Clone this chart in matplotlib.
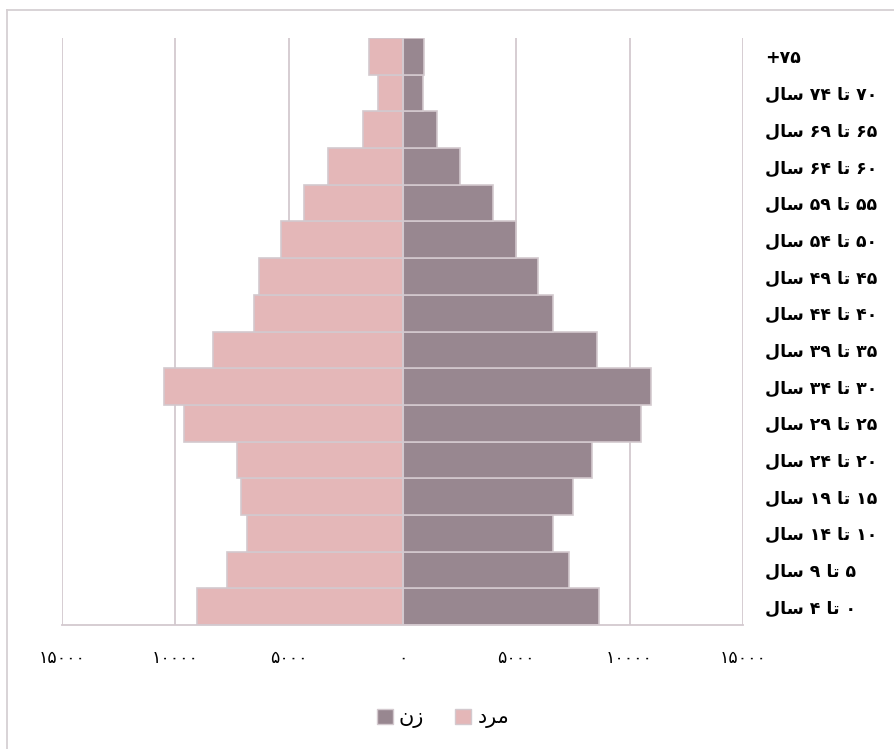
import matplotlib
matplotlib.use("Agg")
import matplotlib.pyplot as plt
from matplotlib.patches import Patch
from matplotlib.lines import Line2D

# ---------------- data ----------------
age_groups = ["۰ تا ۴ سال", "۵ تا ۹ سال", "۱۰ تا ۱۴ سال", "۱۵ تا ۱۹ سال",
              "۲۰ تا ۲۴ سال", "۲۵ تا ۲۹ سال", "۳۰ تا ۳۴ سال", "۳۵ تا ۳۹ سال",
              "۴۰ تا ۴۴ سال", "۴۵ تا ۴۹ سال", "۵۰ تا ۵۴ سال", "۵۵ تا ۵۹ سال",
              "۶۰ تا ۶۴ سال", "۶۵ تا ۶۹ سال", "۷۰ تا ۷۴ سال", "+۷۵"]
men = [9070, 7730, 6840, 7100, 7310, 9620, 10520, 8330,
       6520, 6310, 5360, 4360, 3290, 1720, 1090, 1470]
women = [8640, 7320, 6620, 7500, 8330, 10490, 10930, 8550,
         6620, 5960, 4990, 3970, 2540, 1500, 890, 950]
men_label = "مرد"
women_label = "زن"
x_ticks = [-15000, -10000, -5000, 0, 5000, 10000, 15000]

# --------- minimal Persian shaping (visual order, presentation forms) ---------
FORMS = {  # isolated, final, initial, medial
    "ا": ("\uFE8D", "\uFE8E", None, None),
    "ت": ("\uFE95", "\uFE96", "\uFE97", "\uFE98"),
    "د": ("\uFEA9", "\uFEAA", None, None),
    "ر": ("\uFEAD", "\uFEAE", None, None),
    "ز": ("\uFEAF", "\uFEB0", None, None),
    "س": ("\uFEB1", "\uFEB2", "\uFEB3", "\uFEB4"),
    "ل": ("\uFEDD", "\uFEDE", "\uFEDF", "\uFEE0"),
    "م": ("\uFEE1", "\uFEE2", "\uFEE3", "\uFEE4"),
    "ن": ("\uFEE5", "\uFEE6", "\uFEE7", "\uFEE8"),
}

def dual(c):
    return c in FORMS and FORMS[c][2] is not None

def shape_word(w):
    if not any(c in FORMS for c in w):
        return w
    out = []
    for i, c in enumerate(w):
        if c not in FORMS:
            out.append(c)
            continue
        jp = i > 0 and dual(w[i - 1])
        jn = i < len(w) - 1 and dual(c) and w[i + 1] in FORMS
        iso, fin, ini, med = FORMS[c]
        if jp and jn:
            out.append(med)
        elif jp:
            out.append(fin)
        elif jn:
            out.append(ini)
        else:
            out.append(iso)
    return "".join(reversed(out))

def fa(s):
    return " ".join(shape_word(w) for w in reversed(s.split(" ")))

def fa_num(v):
    return str(abs(int(v))).translate(str.maketrans("0123456789", "۰۱۲۳۴۵۶۷۸۹"))

# ---------------- plot ----------------
W, H = 894, 749
fig = plt.figure(figsize=(W / 100, H / 100), dpi=100)
fig.patch.set_facecolor("white")

frame_c = "#D6D0D3"
# outer chart frame: only its left and top edges fall inside the crop
fig.add_artist(Line2D([6.5 / W, 6.5 / W], [0, 1 - 9.5 / H], transform=fig.transFigure,
                      color=frame_c, linewidth=1.3))
fig.add_artist(Line2D([6.5 / W, 1], [1 - 9.5 / H, 1 - 9.5 / H], transform=fig.transFigure,
                      color=frame_c, linewidth=1.3))

ax = fig.add_axes([62 / W, 1 - 625 / H, (743 - 62) / W, (625 - 38) / H])

c_men = "#E4B7B8"
c_women = "#988790"
edge = "#D3C9CE"
grid = "#D3C9CF"

ypos = list(range(len(age_groups)))
ax.barh(ypos, [-m for m in men], height=1.0, color=c_men, edgecolor=edge,
        linewidth=1.2, zorder=3)
ax.barh(ypos, women, height=1.0, color=c_women, edgecolor=edge,
        linewidth=1.2, zorder=3)

ax.set_xlim(-15000, 15000)
ax.set_ylim(-0.5, len(age_groups) - 0.5)
ax.set_xticks(x_ticks)
ax.set_xticklabels([fa_num(v) for v in x_ticks], family="DejaVu Sans", fontsize=12.5)
ax.tick_params(axis="x", length=0, pad=17, colors="black")
for v in x_ticks:
    ax.axvline(v, color=grid, linewidth=1.3, zorder=1)
ax.axvline(0, color=grid, linewidth=1.5, zorder=4)

ax.yaxis.tick_right()
ax.set_yticks(ypos)
ax.set_yticklabels([fa(s) for s in age_groups], family="DejaVu Sans",
                   fontsize=12.5, fontweight="bold", ha="left")
ax.tick_params(axis="y", length=0, pad=16)

for s in ["top", "left", "right"]:
    ax.spines[s].set_visible(False)
ax.spines["bottom"].set_color(grid)
ax.spines["bottom"].set_linewidth(1.3)
ax.spines["bottom"].set_zorder(5)

handles = [Patch(facecolor=c_women, edgecolor=edge, label=fa(women_label)),
           Patch(facecolor=c_men, edgecolor=edge, label=fa(men_label))]
leg = fig.legend(handles=handles, loc="center", bbox_to_anchor=(443 / W, 1 - 718 / H),
                 ncol=2, frameon=False, handlelength=0.75, handleheight=0.75,
                 handletextpad=0.3, columnspacing=1.5,
                 prop={"family": "DejaVu Sans", "size": 15})

fig.savefig("out.png", dpi=100, facecolor="white")
